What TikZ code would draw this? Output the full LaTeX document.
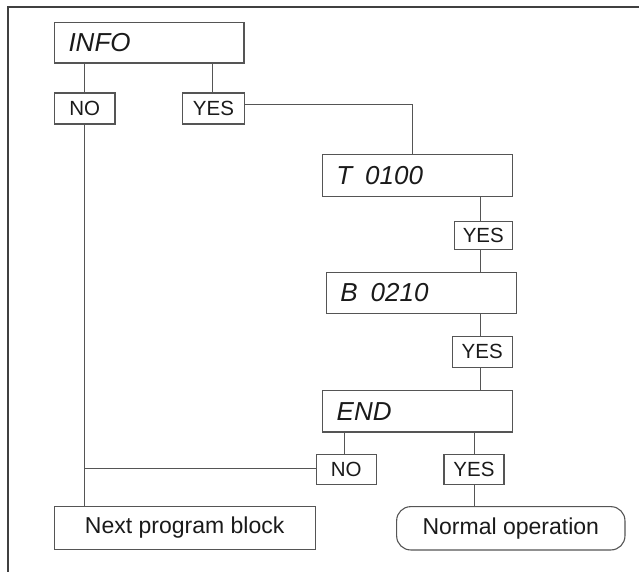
\documentclass[tikz,border=0pt]{standalone}
\usepackage{fontspec}
\setmainfont{Liberation Sans}
\definecolor{lin}{HTML}{555555}
\definecolor{frm}{HTML}{404040}
\definecolor{txt}{HTML}{1A1A1A}
\begin{document}
\begin{tikzpicture}[x=1pt,y=-1pt,
  bigbox/.style={draw=lin, line width=1.1pt, rectangle, minimum height=41.3pt,
    text width=#1-28pt, inner xsep=14pt, inner ysep=0pt, align=left,
    text=txt, font=\fontsize{26}{30}\selectfont\itshape},
  smallbox/.style={draw=lin, line width=1.1pt, rectangle, inner sep=0pt,
    text=txt, font=\fontsize{20.5}{24}\selectfont},
  endbox/.style={draw=lin, line width=1.1pt, rectangle, inner sep=0pt,
    text=txt, font=\fontsize{23}{27}\selectfont},
  conn/.style={draw=lin, line width=1.1pt}
]
\useasboundingbox (0,0) rectangle (639,572);
% frame
\draw[frm, line width=2pt] (8,572) -- (8,6.7) -- (639,6.7);

% main boxes
\node[bigbox=189.5pt, minimum height=40.5pt] (info) at (149.25,42.75) {INFO};
\node[bigbox=190pt, minimum height=41.7pt] (t) at (417.3,175.2) {T\hspace{13pt}0100};
\node[bigbox=190pt, minimum height=41.4pt] (b) at (421.3,293) {B\hspace{13pt}0210};
\node[bigbox=189.6pt, minimum height=41.3pt] (e) at (417.5,411.3) {END};

% small boxes
\node[smallbox, minimum width=60.5pt, minimum height=31pt] (no1) at (84.75,108.5) {NO};
\node[smallbox, minimum width=61.6pt, minimum height=31pt] (yes1) at (213.5,108.5) {YES};
\node[smallbox, minimum width=58pt, minimum height=28.3pt] (yes2) at (483.3,235.2) {YES};
\node[smallbox, minimum width=60.3pt, minimum height=31pt] (yes3) at (482.2,351.8) {YES};
\node[smallbox, minimum width=60.3pt, minimum height=29.7pt] (no4) at (346.2,469.2) {NO};
\node[smallbox, minimum width=60pt, minimum height=29.7pt] (yes4) at (474,469.2) {YES};

% end boxes
\node[endbox, minimum width=260.7pt, minimum height=42.6pt] (next) at (184.7,528) {Next program block};
\node[endbox, minimum width=228.3pt, minimum height=43.3pt, rounded corners=14pt] (norm) at (510.8,528.3) {Normal operation};

% spine coordinates
\coordinate (sp) at (480.7,0);
\coordinate (nx) at (84.7,0);
\coordinate (ys) at (474.6,0);

% connectors
\draw[conn] (info.south -| nx) -- (no1.north -| nx);
\draw[conn] (info.south -| 212.7,0) -- (212.7,93);
\draw[conn] ([yshift=4.4pt]yes1.east) -| ([xshift=-4.6pt]t.north);
\draw[conn] (t.south -| sp) -- (yes2.north -| sp);
\draw[conn] (yes2.south -| sp) -- (b.north -| sp);
\draw[conn] (b.south -| sp) -- (yes3.north -| sp);
\draw[conn] (yes3.south -| sp) -- (e.north -| sp);
\draw[conn] ([xshift=-1.5pt]e.south -| no4.north) -- ([xshift=-1.5pt]no4.north);
\draw[conn] (e.south -| ys) -- (yes4.north -| ys);
\draw[conn] (no1.south -| nx) -- (next.north -| nx);
\draw[conn] ([yshift=0.7pt]no4.west) -- ([yshift=0.7pt]no4.west -| nx);
\draw[conn] (yes4.south -| ys) -- (norm.north -| ys);
\end{tikzpicture}
\end{document}
